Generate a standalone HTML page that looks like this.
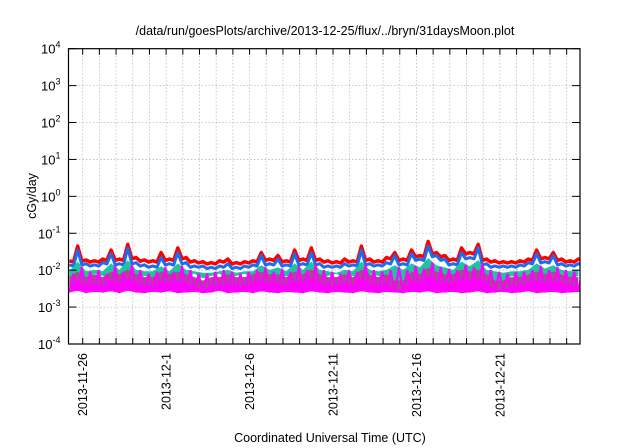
<!DOCTYPE html>
<html><head><meta charset="utf-8"><style>
html,body{margin:0;padding:0;background:#fff;width:640px;height:448px;overflow:hidden}
svg{display:block;font-family:"Liberation Sans",sans-serif}
</style></head><body>
<svg id="chart" width="640" height="448" viewBox="0 0 640 448">
<defs><clipPath id="pc"><rect x="68.5" y="48.7" width="511.5" height="295.3"/></clipPath></defs>
<text x="325" y="35" font-size="12.5" text-anchor="middle">/data/run/goesPlots/archive/2013-12-25/flux/../bryn/31daysMoon.plot</text>
<text transform="translate(36,196) rotate(-90)" font-size="12.5" text-anchor="middle">cGy/day</text>
<text x="330" y="442" font-size="12.5" text-anchor="middle">Coordinated Universal Time (UTC)</text>
<g id="grid"></g><g id="series" clip-path="url(#pc)"></g><g id="axes"></g>
</svg>
<script>
const xTickLabels=["2013-11-26","2013-12-1","2013-12-6","2013-12-11","2013-12-16","2013-12-21"];
const xTickDays=[0,5,10,15,20,25];
const yExponents=[-4,-3,-2,-1,0,1,2,3,4];
const red=[0.018,0.045,0.019,0.018,0.02,0.035,0.02,0.05,0.022,0.019,0.018,0.03,0.02,0.04,0.022,0.018,0.017,0.016,0.018,0.02,0.016,0.017,0.018,0.03,0.02,0.025,0.018,0.035,0.02,0.04,0.02,0.018,0.017,0.02,0.018,0.045,0.02,0.018,0.022,0.03,0.02,0.035,0.025,0.06,0.03,0.025,0.02,0.04,0.03,0.05,0.02,0.018,0.017,0.017,0.018,0.02,0.035,0.022,0.03,0.02,0.018,0.02];
const blue=[0.014,0.035,0.015,0.014,0.016,0.028,0.015,0.04,0.016,0.014,0.013,0.022,0.015,0.03,0.016,0.013,0.013,0.012,0.013,0.015,0.012,0.013,0.014,0.025,0.015,0.02,0.014,0.028,0.015,0.03,0.015,0.013,0.013,0.015,0.014,0.035,0.015,0.014,0.016,0.025,0.015,0.028,0.02,0.045,0.025,0.02,0.015,0.03,0.022,0.04,0.015,0.013,0.013,0.013,0.014,0.016,0.028,0.017,0.025,0.015,0.014,0.015];
const tealLo=[0.006,0.007,0.006,0.008,0.007,0.006,0.008,0.007,0.006,0.007,0.006,0.008,0.007,0.006,0.007,0.008,0.006,0.007,0.008,0.006,0.007,0.008,0.006,0.007,0.008,0.006,0.007,0.006,0.008,0.007,0.006,0.007,0.008,0.006,0.007,0.006,0.008,0.007,0.006,0.004,0.004,0.007,0.006,0.008,0.007,0.006,0.007,0.006,0.008,0.007,0.006,0.004,0.004,0.007,0.006,0.008,0.007,0.006,0.007,0.008,0.006,0.007];
const tealHi=[0.011,0.02,0.011,0.012,0.011,0.018,0.012,0.022,0.012,0.011,0.011,0.015,0.011,0.018,0.012,0.011,0.01,0.01,0.011,0.012,0.01,0.011,0.011,0.016,0.012,0.014,0.011,0.018,0.012,0.02,0.012,0.011,0.01,0.012,0.011,0.02,0.012,0.011,0.012,0.016,0.012,0.018,0.014,0.025,0.016,0.014,0.012,0.02,0.015,0.022,0.012,0.011,0.01,0.011,0.011,0.012,0.018,0.013,0.016,0.012,0.011,0.012];
const magLo=[0.0025,0.0028,0.0024,0.0026,0.0025,0.0027,0.0024,0.0028,0.0025,0.0024,0.0026,0.0025,0.0027,0.0024,0.0025,0.0026,0.0024,0.0025,0.0028,0.0024,0.0025,0.0026,0.0024,0.0027,0.0025,0.0024,0.0026,0.0025,0.0024,0.0027,0.0025,0.0024,0.0026,0.0025,0.0024,0.0027,0.0025,0.0024,0.0026,0.0025,0.0024,0.0026,0.0025,0.0027,0.0024,0.0025,0.0026,0.0024,0.0025,0.0027,0.0024,0.0025,0.0026,0.0024,0.0025,0.0027,0.0024,0.0025,0.0026,0.0024,0.0025,0.0026];
const magHi=[0.008,0.012,0.009,0.01,0.008,0.013,0.009,0.014,0.01,0.008,0.009,0.012,0.009,0.013,0.01,0.008,0.008,0.009,0.01,0.009,0.008,0.009,0.01,0.012,0.009,0.011,0.009,0.013,0.01,0.014,0.01,0.009,0.008,0.01,0.009,0.014,0.01,0.009,0.01,0.012,0.01,0.013,0.011,0.016,0.012,0.011,0.01,0.014,0.012,0.015,0.01,0.009,0.008,0.009,0.009,0.01,0.013,0.01,0.012,0.01,0.009,0.01];
const purple=[0.005,0.007,0.005,0.006,0.005,0.007,0.006,0.008,0.006,0.005,0.005,0.007,0.006,0.007,0.006,0.005,0.004,0.005,0.005,0.006,0.005,0.005,0.006,0.007,0.006,0.006,0.005,0.007,0.006,0.008,0.006,0.005,0.005,0.006,0.005,0.008,0.006,0.005,0.006,0.004,0.004,0.007,0.006,0.009,0.007,0.006,0.006,0.008,0.007,0.008,0.006,0.004,0.004,0.005,0.005,0.006,0.007,0.006,0.007,0.006,0.005,0.005];
const L=68.5,R=580,T=48.7,B=344,d0=-0.85,d1=29.8;
const xs=d=>L+(d-d0)/(d1-d0)*(R-L);
const ys=v=>B-(Math.log10(v)+4)/8*(B-T);
const tOf=i=>-0.8+i*0.5;
const NS="http://www.w3.org/2000/svg";
function mk(tag,attrs,parent){const e=document.createElementNS(NS,tag);for(const k in attrs)e.setAttribute(k,attrs[k]);parent.appendChild(e);return e;}
const grid=document.getElementById('grid'),axes=document.getElementById('axes'),ser=document.getElementById('series');
for(let d=0;d<=29;d++){const x=xs(d);
 const g=mk('line',{x1:x,x2:x,y1:T,y2:B,stroke:'#bbb','stroke-width':0.8,'stroke-dasharray':'1.5,2'},grid);
 
 
 const tk=mk('line',{x1:x,x2:x,y1:B,y2:B-6,stroke:'#000','stroke-width':1},axes);
 
 
 const tk2=mk('line',{x1:x,x2:x,y1:T,y2:T+6,stroke:'#000','stroke-width':1},axes);
 
 }
yExponents.forEach(e=>{const y=ys(Math.pow(10,e));
 if(e>-4&&e<4){const g=mk('line',{x1:L,x2:R,y1:y,y2:y,stroke:'#bbb','stroke-width':0.8,'stroke-dasharray':'1.5,2'},grid);
 
 }
 const tk=mk('line',{x1:L,x2:L+8,y1:y,y2:y,stroke:'#000'},axes);
 
 
 const tk2=mk('line',{x1:R-8,x2:R,y1:y,y2:y,stroke:'#000'},axes);
 
 
 const t=mk('text',{x:L-8,y:y+5,'font-size':13,'text-anchor':'end'},axes);
 
 
 t.innerHTML='10<tspan dy="-6" font-size="9">'+e+'</tspan>';});
xTickDays.forEach((d,i)=>{const x=xs(d);
 const t=mk('text',{transform:`translate(${x+4.5},353) rotate(-90)`,'font-size':12.5,'text-anchor':'end'},axes);
 
 
 t.textContent=xTickLabels[i];});
const fr=mk('rect',{x:L,y:T,width:R-L,height:B-T,fill:'none',stroke:'#000','stroke-width':1.2},axes);


function band(lo,hi,scale,color,name){let p=lo.map((v,i)=>xs(tOf(i))+','+ys(v));p=p.concat(hi.map((v,i)=>xs(tOf(i))+','+ys(v*scale)).reverse());
 const e=mk('polygon',{points:p.join(' '),fill:color},ser);
 
 }
function zig(lo,hi,color,w,name){const p=[];lo.forEach((v,i)=>{p.push(xs(tOf(i))+','+ys(v));p.push(xs(tOf(i)+0.25)+','+ys(hi[i]));});
 const e=mk('polyline',{points:p.join(' '),fill:'none',stroke:color,'stroke-width':w,'stroke-linejoin':'miter'},ser);
 
 }
function line(a,color,w,name){const p=[];a.forEach((v,i)=>{p.push(xs(tOf(i))+','+ys(v));p.push(xs(tOf(i)+0.25)+','+ys(Math.min(v,a[i+1]||v)*0.92));});
 const e=mk('polyline',{points:p.join(' '),fill:'none',stroke:color,'stroke-width':w,'stroke-linejoin':'round'},ser);
 
 }
line(red,'#ff0000',3.5,'red-series');
line(blue,'#1a6cf0',3,'blue-series');
band(tealLo,tealHi,0.85,'#1fc3a0','teal-series');
band(magLo,purple,1.3,'#a0508a','purple-series');
band(magLo,purple,0.75,'#ff00ff','magenta-series');
zig(magLo,magHi,'#ff00ff',2.2,'magenta-spikes');
</script>
</body></html>
